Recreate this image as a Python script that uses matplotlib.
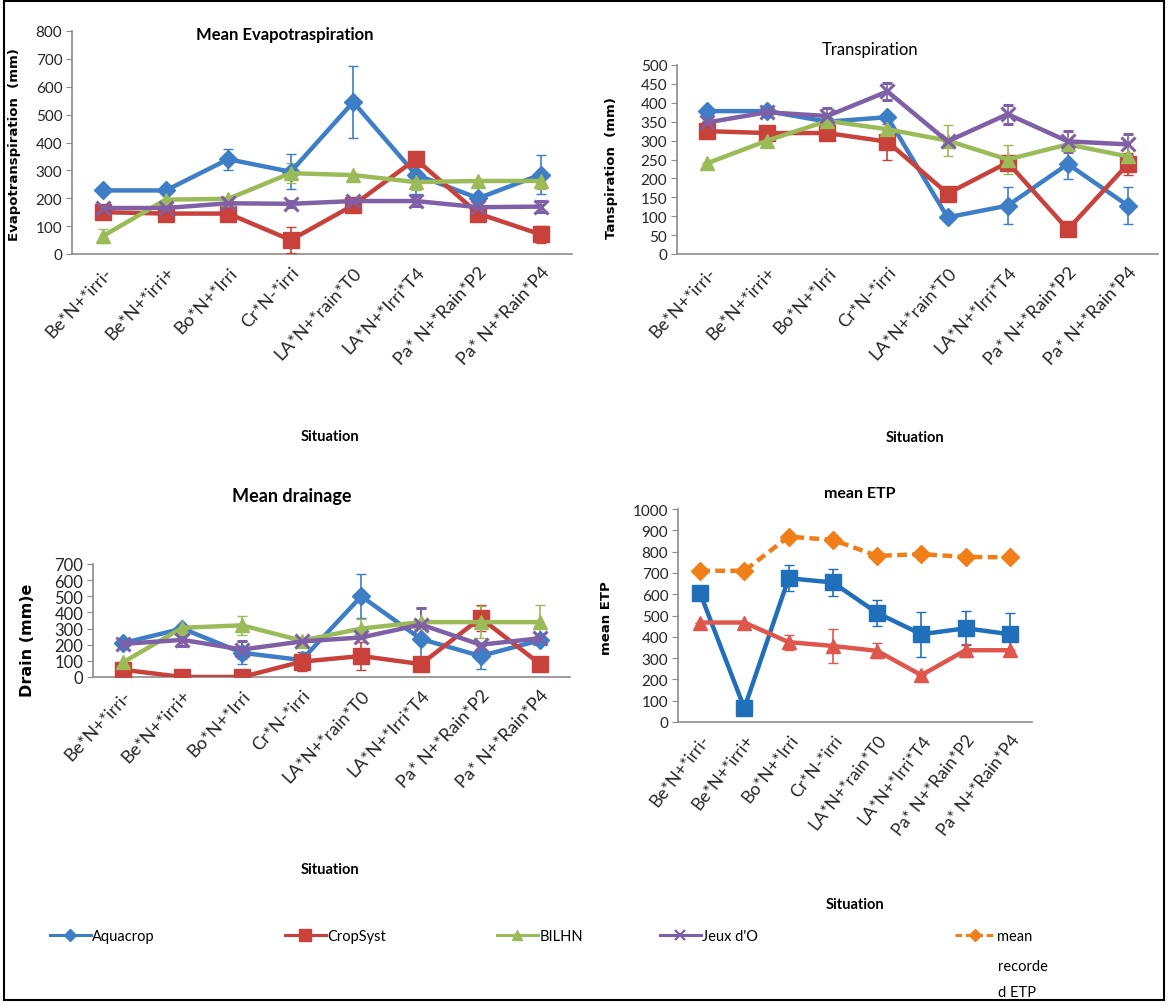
import matplotlib
matplotlib.use("Agg")
import matplotlib.pyplot as plt
from matplotlib.lines import Line2D
from matplotlib.patches import Rectangle
from matplotlib.transforms import ScaledTranslation
import numpy as np

plt.rcParams['font.family'] = ['Lato', 'DejaVu Sans']

categories = ["Be*N+*irri-", "Be*N+*irri+", "Bo*N+*Irri", "Cr*N-*irri",
              "LA*N+*rain*T0", "LA*N+*Irri*T4", "Pa* N+*Rain*P2", "Pa* N+*Rain*P4"]

# Mean evapotranspiration (mm)
et_aquacrop = [228, 228, 340, 295, 545, 285, 200, 285]
et_aquacrop_err = [0, 0, 38, 62, 130, 70, 0, 70]
et_cropsyst = [150, 145, 145, 50, 175, 340, 145, 70]
et_cropsyst_err = [0, 0, 0, 48, 0, 0, 0, 30]
et_bilhn = [65, 195, 198, 290, 283, 258, 262, 262]
et_bilhn_err = [25, 0, 0, 35, 0, 30, 0, 30]
et_jeux = [165, 165, 182, 180, 190, 190, 168, 170]
et_jeux_err = [0, 0, 0, 10, 0, 18, 0, 20]

# Transpiration (mm)
t_aquacrop = [378, 378, 350, 362, 97, 128, 238, 128]
t_aquacrop_err = [0, 0, 0, 0, 0, 48, 40, 48]
t_cropsyst = [325, 320, 320, 297, 160, 242, 65, 238]
t_cropsyst_err = [0, 0, 0, 48, 0, 0, 0, 28]
t_bilhn = [240, 300, 352, 330, 300, 250, 290, 258]
t_bilhn_err = [0, 0, 0, 0, 40, 38, 0, 0]
t_jeux = [348, 375, 365, 430, 298, 370, 298, 290]
t_jeux_err = [0, 0, 20, 22, 0, 25, 28, 28]

# Mean drainage (mm)
dr_aquacrop = [210, 300, 150, 105, 500, 235, 130, 228]
dr_aquacrop_err = [0, 0, 70, 0, 135, 190, 80, 0]
dr_cropsyst = [45, 0, 0, 95, 130, 80, 365, 80]
dr_cropsyst_err = [0, 0, 0, 60, 85, 0, 80, 0]
dr_bilhn = [90, 305, 320, 225, 300, 340, 340, 340]
dr_bilhn_err = [0, 0, 60, 0, 60, 0, 100, 105]
dr_jeux = [205, 230, 170, 220, 245, 325, 200, 240]
dr_jeux_err = [0, 40, 50, 0, 0, 100, 0, 0]

# Mean ETP (mm)
etp_recorded = [710, 710, 870, 855, 780, 788, 775, 773]
etp_square = [605, 65, 675, 655, 512, 412, 440, 412]
etp_square_err = [0, 0, 62, 65, 62, 105, 80, 100]
etp_triangle = [467, 467, 375, 357, 334, 220, 337, 337]
etp_triangle_err = [0, 0, 35, 78, 35, 0, 30, 0]

BLUE = '#3d7ec6'
RED = '#c9413b'
GREEN = '#9bbb59'
PURPLE = '#7f5fa6'
ETP_BLUE = '#1f6fba'
ETP_RED = '#df574c'
ORANGE = '#f07f1a'
AXIS_GRAY = '#8c8c8c'

W, H = 1168, 1003
fig = plt.figure(figsize=(W / 100, H / 100), dpi=100)


def px_axes(x0, x1, ytop, ybot):
    return fig.add_axes([x0 / W, (H - ybot) / H, (x1 - x0) / W, (ybot - ytop) / H])


def style_axes(ax, ymax, step, tick_size, xl_size=13, xl_rot=47):
    n = len(categories)
    ax.set_xlim(-0.5, n - 0.5)
    ax.set_ylim(0, ymax)
    ax.set_yticks(np.arange(0, ymax + 1, step))
    ax.set_xticks(range(n))
    ax.set_xticklabels(categories, rotation=xl_rot, ha='right', rotation_mode='anchor',
                       fontsize=xl_size, color='#262626')
    shift = ScaledTranslation(8 / 100, -2 / 100, fig.dpi_scale_trans)
    for lab in ax.get_xticklabels():
        lab.set_transform(lab.get_transform() + shift)
    ax.tick_params(axis='x', length=0, pad=7)
    ax.tick_params(axis='y', length=4, color=AXIS_GRAY, labelsize=tick_size,
                   labelcolor='#262626', pad=3)
    for s in ('top', 'right'):
        ax.spines[s].set_visible(False)
    for s in ('left', 'bottom'):
        ax.spines[s].set_color(AXIS_GRAY)
        ax.spines[s].set_linewidth(1.2)
    ax.patch.set_alpha(0)


def series(ax, y, err, color, marker, ms, ls='-', lw=3.2, mew=1.0):
    x = np.arange(len(y))
    ax.errorbar(x, y, yerr=err, color=color, ecolor=color, elinewidth=1.2,
                capsize=3.5, capthick=1.2, linestyle=ls, linewidth=lw, marker=marker,
                markersize=ms, markeredgewidth=mew, markeredgecolor=color,
                markerfacecolor=color, zorder=3)


def four_models(ax, a, ae, c, ce, b, be, j, je):
    series(ax, a, ae, BLUE, 'D', 9)
    series(ax, c, ce, RED, 's', 11)
    series(ax, b, be, GREEN, '^', 10)
    series(ax, j, je, PURPLE, 'x', 10, mew=2.2)


# Mean evapotranspiration
ax1 = px_axes(72, 572, 32, 255)
four_models(ax1, et_aquacrop, et_aquacrop_err, et_cropsyst, et_cropsyst_err,
            et_bilhn, et_bilhn_err, et_jeux, et_jeux_err)
style_axes(ax1, 800, 100, 11)
fig.text(285 / W, 1 - 35 / H, "Mean Evapotraspiration", ha='center', va='center',
         fontsize=12, fontweight='bold')
fig.text(15 / W, 1 - 145 / H, "Evapotranspiration  (mm)", rotation=90, ha='center',
         va='center', fontsize=9.5, fontweight='bold', family='DejaVu Sans')
fig.text(330 / W, 1 - 437 / H, "Situation", ha='center', va='center',
         fontsize=10.5, fontweight='bold')

# Transpiration
ax2 = px_axes(677, 1158, 66, 255)
four_models(ax2, t_aquacrop, t_aquacrop_err, t_cropsyst, t_cropsyst_err,
            t_bilhn, t_bilhn_err, t_jeux, t_jeux_err)
style_axes(ax2, 500, 50, 11)
fig.text(870 / W, 1 - 50 / H, "Transpiration", ha='center', va='center', fontsize=12)
fig.text(612 / W, 1 - 168 / H, "Tanspiration  (mm)", rotation=90, ha='center',
         va='center', fontsize=9.5, fontweight='bold', family='DejaVu Sans')
fig.text(915 / W, 1 - 438 / H, "Situation", ha='center', va='center',
         fontsize=10.5, fontweight='bold')

# Mean drainage
ax3 = px_axes(93, 570, 565, 678)
four_models(ax3, dr_aquacrop, dr_aquacrop_err, dr_cropsyst, dr_cropsyst_err,
            dr_bilhn, dr_bilhn_err, dr_jeux, dr_jeux_err)
style_axes(ax3, 700, 100, 12)
fig.text(292 / W, 1 - 497 / H, "Mean drainage", ha='center', va='center',
         fontsize=13, fontweight='bold')
fig.text(27 / W, 1 - 640 / H, "Drain (mm)e", rotation=90, ha='center',
         va='center', fontsize=11.5, fontweight='bold', family='DejaVu Sans')
fig.text(330 / W, 1 - 870 / H, "Situation", ha='center', va='center',
         fontsize=10.5, fontweight='bold')

# Mean ETP
ax4 = px_axes(678, 1032, 510, 723)
series(ax4, etp_recorded, [0] * len(etp_recorded), ORANGE, 'D', 9, ls=(0, (2.2, 1.2)), lw=3.2)
series(ax4, etp_square, etp_square_err, ETP_BLUE, 's', 11)
series(ax4, etp_triangle, etp_triangle_err, ETP_RED, '^', 10)
style_axes(ax4, 1000, 100, 11, xl_size=12.5, xl_rot=52)
fig.text(860 / W, 1 - 494 / H, "mean ETP", ha='center', va='center',
         fontsize=11.5, fontweight='bold')
fig.text(606 / W, 1 - 618 / H, "mean ETP", rotation=90, ha='center',
         va='center', fontsize=9.5, fontweight='bold', family='DejaVu Sans')
fig.text(855 / W, 1 - 905 / H, "Situation", ha='center', va='center',
         fontsize=10.5, fontweight='bold')

# Legend row along the bottom
legend_items = [
    ("Aquacrop", BLUE, 'D', 6, '-', 50),
    ("CropSyst", RED, 's', 8, '-', 285),
    ("BILHN", GREEN, '^', 7, '-', 497),
    ("Jeux d'O", PURPLE, 'x', 7, '-', 660),
    ("mean", ORANGE, 'D', 6, (0, (2.2, 1.2)), 955),
]
for label, color, marker, ms, ls, x in legend_items:
    handle = Line2D([], [], color=color, marker=marker, markersize=ms, linestyle=ls,
                    linewidth=2.2, markeredgewidth=1.6 if marker == 'x' else 1.0,
                    markerfacecolor=color, markeredgecolor=color)
    fig.legend([handle], [label], loc='center left', bbox_to_anchor=(x / W, 1 - 937 / H),
               frameon=False, fontsize=10.5, handlelength=2.8, handletextpad=0.1,
               borderpad=0, borderaxespad=0)
fig.text(998 / W, 1 - 967 / H, "recorde", ha='left', va='center', fontsize=10.5)
fig.text(998 / W, 1 - 993 / H, "d ETP", ha='left', va='center', fontsize=10.5)

# Outer frame
fig.patches.append(Rectangle((4 / W, 2 / H), (W - 8) / W, (H - 4) / H,
                             transform=fig.transFigure, fill=False,
                             edgecolor='black', linewidth=1.5))

fig.savefig("out.png", dpi=100)
